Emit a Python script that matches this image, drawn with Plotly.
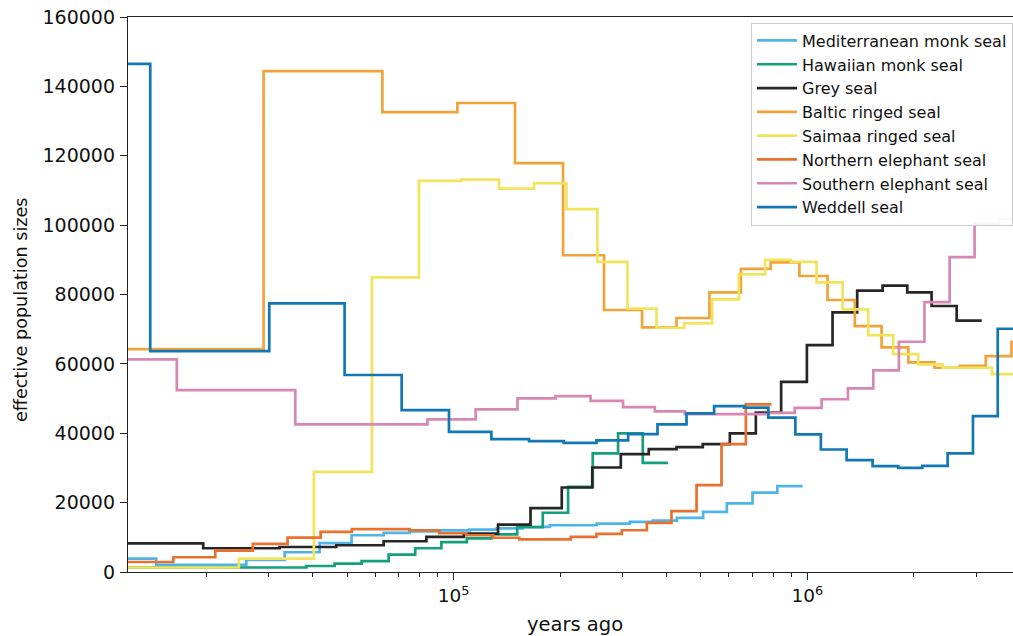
import math
import plotly.graph_objects as go

# PSMC-style effective population size histories (bin start times in years, Ne per bin).
# Each time list holds the bin edges; the Ne list holds one value per bin.

t_med_monk = [10000, 14420, 25920, 33260, 41770, 51450, 63390, 75090, 91290, 111000, 132300,
              156800, 186900, 253800, 314700, 365600, 427400, 507200, 592000, 699800, 822300, 969200]
ne_med_monk = [3850, 2030, 3500, 5700, 8300, 10590, 11300, 11700, 12000, 12240, 12600,
               13000, 13480, 13970, 14430, 14800, 15600, 17320, 19800, 22910, 24730]

t_haw_monk = [10000, 38310, 46070, 54920, 65480, 77840, 92300, 109000, 128100, 151200, 178600,
              210600, 247300, 291600, 342500, 403700]
ne_haw_monk = [1300, 1730, 2420, 3130, 5000, 6850, 8600, 9720, 10830, 12900, 17080,
               24530, 34170, 39940, 31460]

t_grey = [10000, 19580, 32190, 46580, 63390, 83720, 106870, 133480, 164900, 202100, 246500,
          296800, 356100, 426600, 506200, 603700, 715000, 843000, 996800, 1178000, 1383000,
          1632000, 1916000, 2245000, 2643000, 3110000]
ne_grey = [8280, 6840, 7210, 7710, 8860, 10100, 11080, 13680, 18400, 24360, 30130,
           33970, 35400, 35990, 36850, 39940, 45950, 54830, 65430, 74860, 81100,
           82540, 80630, 76680, 72440]

t_baltic = [10000, 29010, 62860, 102440, 149100, 203800, 266200, 341000, 426600, 528700, 648600,
            788300, 949300, 1140500, 1362000, 1621000, 1929000, 2287000, 2700000, 3194000,
            3777000, 4500000]
ne_baltic = [64270, 144400, 132600, 135200, 117860, 91310, 75530, 70530, 73220, 80630, 87360,
             89290, 85340, 78410, 70910, 64760, 60430, 58880, 59450, 62250, 66380]

t_saimaa = [10000, 24700, 40250, 58740, 79760, 105150, 134340, 168700, 208400, 254900, 310000,
            374500, 448200, 537800, 640200, 759600, 898200, 1062000, 1258000, 1486000, 1749000,
            2058000, 2418000, 3325000, 4500000]
ne_saimaa = [1300, 3850, 28860, 84960, 112760, 113130, 110530, 112090, 104590, 89380, 75900,
             70420, 71690, 78620, 85830, 90000, 89380, 83520, 75730, 68310, 62830,
             59850, 58880, 57060]

t_north_eleph = [10000, 16110, 21180, 27050, 33910, 42050, 51540, 75090, 91000, 108600, 129200,
                 153200, 214300, 253300, 298800, 351600, 412800, 486100, 571800, 669900, 791900]
ne_north_eleph = [2890, 4250, 6150, 8100, 9930, 11550, 12350, 12030, 11170, 10590, 9870,
                  9400, 10100, 11000, 12030, 14140, 17550, 25020, 36850, 48350]

t_south_eleph = [10000, 16490, 35660, 84330, 115400, 151500, 194300, 243800, 301200, 370400,
                 450300, 775700, 921800, 1097000, 1302000, 1536000, 1815000, 2143000, 2525000,
                 2970000, 3480000, 4500000]
ne_south_eleph = [61300, 52440, 42540, 43980, 46870, 50040, 50700, 49350, 47530, 46290,
                  45500, 45900, 47300, 49800, 52930, 58100, 66380, 77800, 90800,
                  100450, 101800]

t_weddell = [10000, 13870, 30100, 49160, 71270, 96990, 127800, 163300, 204700, 253300, 311300,
             376900, 455300, 544900, 662600, 775700, 924900, 1092000, 1291000, 1529000, 1807000,
             2113000, 2492000, 2939000, 3453000, 4500000]
ne_weddell = [146500, 63700, 77460, 56800, 46670, 40400, 38300, 37720, 37230, 37920, 39740,
              42540, 45710, 47820, 47400, 44500, 39700, 35320, 32240, 30500, 30020,
              30600, 34170, 44940, 70130]

names = ["Mediterranean monk seal", "Hawaiian monk seal", "Grey seal", "Baltic ringed seal",
         "Saimaa ringed seal", "Northern elephant seal", "Southern elephant seal", "Weddell seal"]

y_ticks = [0, 20000, 40000, 60000, 80000, 100000, 120000, 140000, 160000]
x_major = [1e5, 1e6]
x_major_text = ["10<sup>5</sup>", "10<sup>6</sup>"]
x_minor = [2e4, 3e4, 4e4, 5e4, 6e4, 7e4, 8e4, 9e4,
           2e5, 3e5, 4e5, 5e5, 6e5, 7e5, 8e5, 9e5,
           2e6, 3e6]

series = [
    (t_med_monk, ne_med_monk, "#4fb4e8"),
    (t_haw_monk, ne_haw_monk, "#13a07a"),
    (t_grey, ne_grey, "#262626"),
    (t_baltic, ne_baltic, "#f1a23a"),
    (t_saimaa, ne_saimaa, "#f2e35c"),
    (t_north_eleph, ne_north_eleph, "#e8712f"),
    (t_south_eleph, ne_south_eleph, "#d688b4"),
    (t_weddell, ne_weddell, "#1277b5"),
]

FONT = "DejaVu Sans"
AX = "#222222"
TXT = "#111111"

fig = go.Figure()
for name, (t, ne, color) in zip(names, series):
    fig.add_trace(go.Scatter(
        x=t, y=ne + [ne[-1]], mode="lines", name=name, legendgroup=name,
        line=dict(color=color, width=2.7, shape="hv"),
    ))

fig.update_layout(
    width=1013, height=636,
    margin=dict(l=128, r=0, t=17, b=64),
    paper_bgcolor="white", plot_bgcolor="white",
    font=dict(family=FONT, size=18, color=TXT),
    showlegend=True,
    legend=dict(
        x=1.0, xanchor="right", y=0.99, yanchor="top",
        bgcolor="rgba(255,255,255,0.9)", bordercolor="#cccccc", borderwidth=1,
        font=dict(family=FONT, size=16, color=TXT),
        tracegroupgap=2, traceorder="normal", itemwidth=40,
    ),
    xaxis=dict(
        type="log",
        range=[math.log10(12000), math.log10(3.814e6)],
        showline=True, linecolor=AX, linewidth=1.4, mirror=True,
        showgrid=False, zeroline=False,
        ticks="outside", ticklen=7, tickwidth=1.4, tickcolor=AX,
        tickmode="array", tickvals=x_major, ticktext=x_major_text,
        tickfont=dict(family=FONT, size=18.5, color=TXT),
        minor=dict(ticks="outside", ticklen=4, tickwidth=1, tickcolor=AX,
                   tickmode="array", tickvals=x_minor, showgrid=False),
    ),
    yaxis=dict(
        range=[0, 160000],
        showline=True, linecolor=AX, linewidth=1.4,
        showgrid=False, zeroline=False,
        ticks="outside", ticklen=7, tickwidth=1.4, tickcolor=AX,
        tickmode="array", tickvals=y_ticks, tickformat="d",
        tickfont=dict(family=FONT, size=19, color=TXT),
        ticklabelstandoff=1,
    ),
    annotations=[
        dict(text="years ago", xref="paper", yref="paper", x=0.5051, y=-0.0937,
             xanchor="center", yanchor="middle", showarrow=False,
             font=dict(family=FONT, size=19.5, color=TXT)),
        dict(text="effective population sizes", xref="paper", yref="paper",
             x=-0.1209, y=0.472, xanchor="center", yanchor="middle", textangle=-90,
             showarrow=False, font=dict(family=FONT, size=17.6, color=TXT)),
    ],
)

fig.write_html("out.html")
